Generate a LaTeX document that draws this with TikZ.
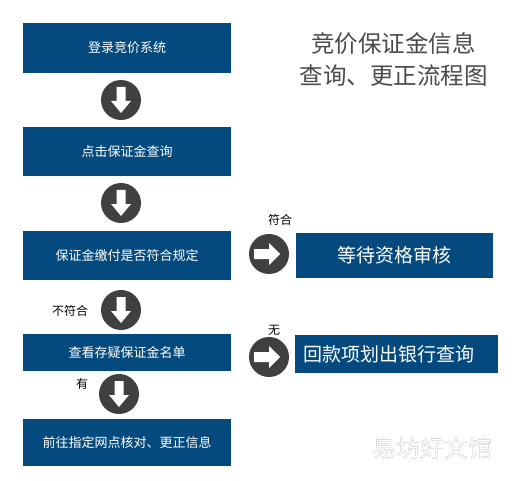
\documentclass[tikz,border=0pt]{standalone}
\usepackage{fontspec}
\setmainfont{Noto Sans CJK SC}
\usepackage[outline]{contour}
\contourlength{0.9pt}
\definecolor{boxblue}{RGB}{5,74,126}
\definecolor{dotgray}{RGB}{64,64,64}
\definecolor{titlegray}{RGB}{74,74,74}
\definecolor{markgray}{RGB}{105,105,105}
\tikzset{
  stepbox/.style={fill=boxblue, text=white, inner sep=0pt},
  arrowdot/.style={circle, fill=dotgray, inner sep=0pt, minimum size=40pt},
  note/.style={inner sep=0pt, font=\fontsize{12}{14}\selectfont},
  downpic/.pic={\fill[white] (-4.5,-13) -- (4.5,-13) -- (4.5,1) -- (10,1) -- (0,13) -- (-10,1) -- (-4.5,1) -- cycle;},
  rightpic/.pic={\fill[white] (-15,-5) -- (0,-5) -- (0,-11) -- (11,0) -- (0,11) -- (0,5) -- (-15,5) -- cycle;}
}
\begin{document}
\begin{tikzpicture}[x=1pt, y=-1pt]
    \useasboundingbox (0,0) rectangle (519,481);
    
    % left column
    \node [stepbox, minimum width=208pt, minimum height=50pt, font=\fontsize{13}{15}\selectfont] (login) at (127,48) {登录竞价系统};
    \node [stepbox, minimum width=208pt, minimum height=49pt, font=\fontsize{13}{15}\selectfont] (query) at (127,151.5) {点击保证金查询};
    \node [stepbox, minimum width=208pt, minimum height=49pt, font=\fontsize{13}{15}\selectfont] (check) at (127,255.5) {保证金缴付是否符合规定};
    \node [stepbox, minimum width=208pt, minimum height=37pt, font=\fontsize{13}{15}\selectfont] (list) at (127,352.5) {查看存疑保证金名单};
    \node [stepbox, minimum width=208pt, minimum height=47pt, font=\fontsize{13}{15}\selectfont] (fix) at (127,442.5) {前往指定网点核对、更正信息};
    
    % right column
    \node [stepbox, minimum width=197pt, minimum height=45pt, font=\fontsize{19}{21}\selectfont] (wait) at (394.5,255.5) {等待资格审核};
    \node [stepbox, minimum width=203pt, minimum height=38pt, font=\fontsize{19}{21}\selectfont, text width=187pt] (bank) at (396.5,354) {回款项划出银行查询};
    
    % arrow dots
    \node [arrowdot] (d1) at (121,100) {};
    \node [arrowdot] (d2) at (121,203) {};
    \node [arrowdot] (d3) at (121,310) {};
    \node [arrowdot] (d4) at (119,394) {};
    \node [arrowdot] (r1) at (269,254) {};
    \node [arrowdot] (r2) at (269,357) {};
    \pic at (d1) {downpic};
    \pic at (d2) {downpic};
    \pic at (d3) {downpic};
    \pic at (d4) {downpic};
    \pic at (r1) {rightpic};
    \pic at (r2) {rightpic};
    
    % labels
    \node [note] (yes) at (280,220) {符合};
    \node [note] (no) at (70,311) {不符合};
    \node [note] (none) at (274,330) {无};
    \node [note] (has) at (82,384) {有};
    
    % title
    \node [text=titlegray, font=\fontsize{23.5}{32}\selectfont, align=center, inner sep=0pt] (title) at (393.5,59) {竞价保证金信息\\查询、更正流程图};
    
    \node [inner sep=0pt, font=\fontsize{24}{26}\selectfont] (mark) at (432,448) {\contour{markgray}{\textcolor{white}{易坊好文馆}}};
    
\end{tikzpicture}
\end{document}
